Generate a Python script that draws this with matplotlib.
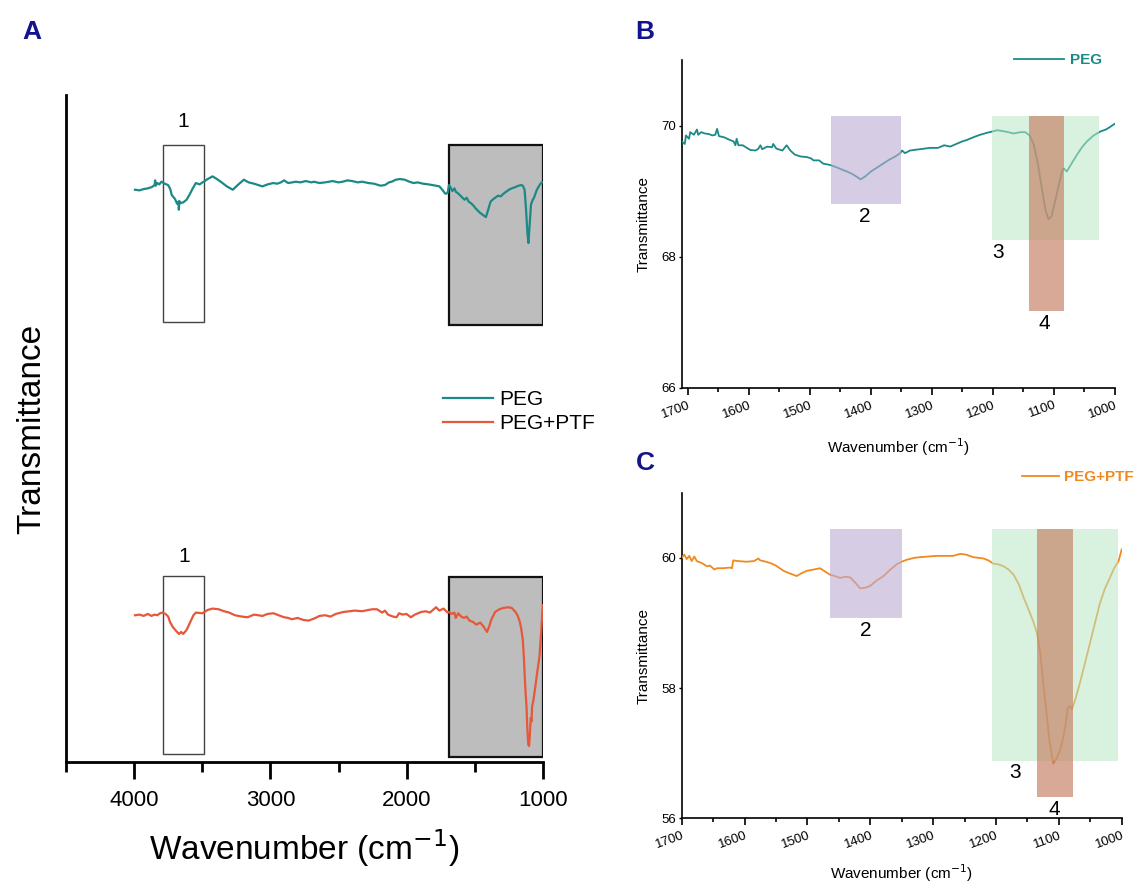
import matplotlib
matplotlib.use("Agg")
import matplotlib.pyplot as plt
from matplotlib.patches import Rectangle
from matplotlib.ticker import MultipleLocator

plt.rcParams['font.family'] = ['Liberation Sans', 'DejaVu Sans']

# ---------------- data: panel A (full range, offset arbitrary units) ----------------
a_peg_x = [3994, 3960, 3930, 3900, 3870, 3850, 3846, 3842, 3830, 3815, 3800, 3791, 3775,
           3751, 3735, 3724, 3700, 3685, 3675, 3672, 3668, 3660, 3640, 3615, 3590, 3570,
           3547, 3520, 3498, 3460, 3425, 3400, 3358, 3320, 3276, 3240, 3195, 3160, 3120,
           3059, 3020, 2980, 2950, 2923, 2900, 2870, 2840, 2815, 2780, 2740, 2700, 2680,
           2640, 2600, 2570, 2544, 2500, 2470, 2435, 2400, 2360, 2327, 2280, 2240, 2192,
           2160, 2130, 2110, 2080, 2050, 2015, 1980, 1950, 1920, 1880, 1840, 1785, 1760,
           1735, 1717, 1700, 1690, 1677, 1665, 1650, 1640, 1620, 1596, 1575, 1560, 1545,
           1530, 1514, 1490, 1460, 1440, 1419, 1405, 1385, 1370, 1351, 1330, 1310, 1290,
           1270, 1250, 1230, 1202, 1180, 1160, 1148, 1135, 1125, 1115, 1107, 1098, 1088,
           1075, 1066, 1045, 1025, 1010, 1000]
a_peg_y = [85.8, 85.7, 85.9, 86.0, 86.2, 86.5, 87.2, 86.4, 86.8, 86.6, 87.0, 86.9, 86.7,
           86.5, 85.9, 85.0, 84.4, 83.7, 84.0, 82.8, 84.1, 83.8, 83.9, 84.3, 85.2, 86.0,
           86.8, 86.6, 86.9, 87.4, 87.8, 87.5, 86.9, 86.3, 85.8, 86.5, 87.3, 86.9, 86.7,
           86.3, 86.6, 86.8, 86.7, 86.9, 87.2, 86.8, 86.9, 87.0, 86.9, 87.1, 86.9, 87.0,
           86.8, 86.9, 87.0, 87.1, 86.9, 87.0, 87.2, 87.1, 86.9, 87.0, 86.8, 86.7, 86.4,
           86.5, 86.9, 87.0, 87.3, 87.4, 87.3, 87.0, 86.8, 86.9, 86.7, 86.6, 86.4, 86.3,
           85.7, 85.2, 85.3, 86.5, 86.1, 85.6, 86.0, 85.5, 85.2, 84.7, 84.3, 84.6, 84.0,
           83.8, 83.5, 82.9, 82.3, 82.0, 81.7, 82.6, 84.0, 84.3, 84.6, 84.9, 84.8, 85.2,
           85.5, 85.8, 86.0, 86.2, 86.4, 86.5, 86.4, 85.8, 83.0, 79.5, 77.8, 80.5, 83.6,
           84.3, 84.6, 85.8, 86.5, 86.9, 86.9]

a_ptf_x = [3994, 3960, 3930, 3900, 3873, 3850, 3830, 3810, 3791, 3770, 3750, 3737, 3715,
           3690, 3670, 3655, 3640, 3615, 3590, 3565, 3547, 3500, 3460, 3425, 3380, 3340,
           3303, 3260, 3210, 3168, 3120, 3090, 3059, 3020, 2978, 2940, 2900, 2870, 2843,
           2800, 2760, 2720, 2680, 2640, 2598, 2560, 2520, 2463, 2420, 2380, 2327, 2280,
           2250, 2219, 2180, 2160, 2138, 2100, 2075, 2056, 2030, 2002, 1970, 1940, 1893,
           1860, 1830, 1785, 1760, 1730, 1700, 1690, 1670, 1650, 1640, 1622, 1600, 1580,
           1560, 1540, 1514, 1490, 1460, 1440, 1411, 1395, 1380, 1351, 1320, 1290, 1257,
           1230, 1202, 1185, 1170, 1160, 1148, 1140, 1132, 1125, 1121, 1115, 1108, 1102,
           1096, 1090, 1084, 1080, 1070, 1055, 1040, 1026, 1015, 1004, 1000]
a_ptf_y = [22.0, 22.1, 21.9, 22.2, 21.9, 22.1, 22.0, 22.3, 22.4, 22.2, 21.8, 21.0, 20.2,
           19.6, 19.2, 19.5, 19.2, 19.8, 20.9, 22.0, 22.4, 22.3, 22.8, 23.0, 22.9, 22.6,
           22.4, 22.0, 21.8, 21.7, 22.1, 22.0, 21.9, 22.2, 22.3, 22.0, 21.7, 21.6, 21.4,
           21.6, 21.3, 21.2, 21.5, 21.9, 22.0, 21.8, 22.2, 22.5, 22.6, 22.7, 22.6, 22.8,
           22.9, 22.9, 22.4, 22.7, 22.1, 21.8, 21.7, 22.3, 22.1, 22.2, 21.7, 22.1, 22.5,
           22.6, 22.4, 23.2, 22.7, 23.0, 22.4, 22.5, 22.2, 22.4, 21.6, 22.3, 21.8, 21.6,
           21.8, 21.2, 21.0, 20.6, 20.9, 20.4, 19.5, 20.3, 21.3, 22.5, 22.9, 23.1, 23.2,
           23.1, 22.5, 21.9, 21.0, 20.0, 18.3, 15.5, 12.0, 9.5, 8.3, 5.0, 2.6, 2.4,
           4.2, 6.6, 6.1, 8.3, 9.3, 11.5, 13.8, 15.8, 19.0, 22.6, 23.5]

# ---------------- data: panel B (PEG zoom) ----------------
b_peg_x = [1710, 1705, 1703, 1698, 1696, 1690, 1685, 1683, 1678, 1672, 1665, 1660, 1655,
           1652, 1649, 1640, 1631, 1625, 1622, 1620, 1617, 1610, 1598, 1590, 1585, 1581,
           1578, 1570, 1562, 1560, 1555, 1545, 1538, 1532, 1525, 1516, 1505, 1498, 1494,
           1485, 1478, 1467, 1455, 1445, 1439, 1430, 1420, 1417, 1410, 1400, 1390, 1380,
           1370, 1360, 1352, 1349, 1344, 1336, 1320, 1303, 1290, 1280, 1270, 1260, 1250,
           1243, 1230, 1221, 1210, 1201, 1193, 1180, 1166, 1155, 1147, 1140, 1133, 1126,
           1120, 1114, 1109, 1104, 1098, 1092, 1087, 1084, 1079, 1070, 1062, 1054, 1046,
           1035, 1024, 1015, 1008, 1000]
b_peg_y = [69.76, 69.72, 69.85, 69.80, 69.90, 69.86, 69.94, 69.86, 69.90, 69.88, 69.87,
           69.85, 69.86, 69.95, 69.84, 69.82, 69.78, 69.76, 69.70, 69.80, 69.70, 69.70,
           69.63, 69.62, 69.64, 69.70, 69.64, 69.68, 69.67, 69.72, 69.65, 69.62, 69.70,
           69.62, 69.56, 69.53, 69.52, 69.50, 69.47, 69.47, 69.42, 69.40, 69.36, 69.32,
           69.30, 69.26, 69.20, 69.18, 69.22, 69.30, 69.36, 69.42, 69.48, 69.53, 69.58,
           69.62, 69.58, 69.62, 69.64, 69.66, 69.66, 69.70, 69.68, 69.72, 69.76, 69.78,
           69.83, 69.86, 69.89, 69.91, 69.93, 69.91, 69.88, 69.90, 69.90, 69.85, 69.71,
           69.40, 69.05, 68.72, 68.57, 68.62, 68.85, 69.10, 69.30, 69.35, 69.30, 69.44,
           69.56, 69.67, 69.76, 69.85, 69.91, 69.94, 69.98, 70.03]

# ---------------- data: panel C (PEG+PTF zoom) ----------------
c_ptf_x = [1700, 1696, 1692, 1688, 1684, 1680, 1676, 1668, 1660, 1655, 1648, 1644, 1635,
           1623, 1620, 1618, 1610, 1597, 1585, 1578, 1575, 1570, 1559, 1550, 1538, 1528,
           1517, 1510, 1501, 1490, 1480, 1472, 1464, 1456, 1448, 1440, 1432, 1424, 1416,
           1408, 1400, 1390, 1379, 1368, 1358, 1350, 1342, 1330, 1321, 1308, 1294, 1280,
           1268, 1257, 1248, 1236, 1220, 1212, 1204, 1196, 1188, 1180, 1172, 1164, 1156,
           1148, 1141, 1135, 1130, 1125, 1120, 1115, 1109, 1104, 1098, 1093, 1089, 1086,
           1082, 1079, 1074, 1067, 1059, 1051, 1043, 1035, 1027, 1019, 1012, 1005, 1000]
c_ptf_y = [60.00, 60.05, 59.98, 60.03, 59.95, 60.02, 59.95, 59.92, 59.87, 59.88, 59.82,
           59.84, 59.84, 59.85, 59.84, 59.96, 59.95, 59.94, 59.95, 59.99, 59.96, 59.95,
           59.92, 59.88, 59.80, 59.76, 59.72, 59.76, 59.80, 59.82, 59.84, 59.79, 59.74,
           59.72, 59.69, 59.71, 59.70, 59.62, 59.53, 59.54, 59.57, 59.65, 59.72, 59.82,
           59.90, 59.94, 59.97, 60.00, 60.01, 60.02, 60.03, 60.03, 60.03, 60.06, 60.05,
           60.01, 59.99, 59.96, 59.91, 59.90, 59.87, 59.82, 59.74, 59.60, 59.39, 59.20,
           59.03, 58.85, 58.57, 58.10, 57.65, 57.20, 56.84, 56.91, 57.05, 57.24, 57.45,
           57.70, 57.72, 57.68, 57.82, 58.06, 58.36, 58.67, 58.98, 59.29, 59.52, 59.69,
           59.84, 59.95, 60.13]

# ---------------- figure ----------------
fig = plt.figure(figsize=(11.36, 8.84), dpi=100)

teal = '#1b8a86'
red = '#e5583a'
orange = '#f08a1f'
navy = '#14148a'

# ---------------- Panel A ----------------
axA = fig.add_axes([66/1136, 1-762/884, 477/1136, 667/884])
axA.plot(a_peg_x, a_peg_y, color=teal, lw=1.6, label='PEG', zorder=3)
axA.plot(a_ptf_x, a_ptf_y, color=red, lw=1.6, label='PEG+PTF', zorder=3)
axA.set_xlim(4500, 1000)
axA.set_ylim(0, 100)
for s in ['top', 'right']:
    axA.spines[s].set_visible(False)
for s in ['left', 'bottom']:
    axA.spines[s].set_linewidth(2)
axA.set_yticks([])
axA.xaxis.set_major_locator(MultipleLocator(1000))
axA.xaxis.set_minor_locator(MultipleLocator(500))
axA.tick_params(axis='x', which='major', length=12, width=2, labelsize=16, pad=8)
axA.tick_params(axis='x', which='minor', length=7, width=2)
axA.set_xlabel('Wavenumber (cm$^{-1}$)', fontsize=24, labelpad=12)
axA.set_ylabel('Transmittance', fontsize=24)
axA.yaxis.set_label_coords(-0.04, 0.5)

# boxes in A
for (x0, x1, y0, y1) in [(3790, 3490, 66.0, 92.5), (3790, 3490, 1.2, 27.9)]:
    axA.add_patch(Rectangle((x1, y0), x0 - x1, y1 - y0, facecolor='none',
                            edgecolor='#444444', lw=1.0, zorder=2))
for (x0, x1, y0, y1) in [(1690, 1000, 65.5, 92.5), (1690, 1000, 0.7, 27.7)]:
    axA.add_patch(Rectangle((x1, y0), x0 - x1, y1 - y0, facecolor='#bdbdbd',
                            edgecolor='#111111', lw=1.6, zorder=1))
axA.text(3640, 96.0, '1', fontsize=15, ha='center', va='center')
axA.text(3630, 30.8, '1', fontsize=15, ha='center', va='center')
axA.legend(loc='upper left', bbox_to_anchor=((443-66)/477, (762-390)/667),
           frameon=False, fontsize=15, handlelength=2.4, handletextpad=0.3,
           labelspacing=0.25, borderpad=0, borderaxespad=0)

fig.text(32/1136, 1-32/884, 'A', fontsize=19, fontweight='bold', color=navy,
         ha='center', va='center')
fig.text(645/1136, 1-32/884, 'B', fontsize=19, fontweight='bold', color=navy,
         ha='center', va='center')
fig.text(645/1136, 1-463/884, 'C', fontsize=19, fontweight='bold', color=navy,
         ha='center', va='center')

purple_c = '#bcacd5'
green_c = '#b9e8c6'
brick_c = '#c67c61'

def style_zoom(ax, xlabel_y):
    for s in ['top', 'right']:
        ax.spines[s].set_visible(False)
    for s in ['left', 'bottom']:
        ax.spines[s].set_linewidth(1.2)
    ax.xaxis.set_major_locator(MultipleLocator(100))
    ax.xaxis.set_minor_locator(MultipleLocator(50))
    ax.yaxis.set_major_locator(MultipleLocator(2))
    ax.tick_params(axis='x', which='major', length=5, width=1.2, labelsize=9.5, pad=3)
    ax.tick_params(axis='x', which='minor', length=3, width=1.2)
    ax.tick_params(axis='y', which='major', length=2, width=1.0, labelsize=9.5, pad=2)
    for lab in ax.get_xticklabels():
        lab.set_rotation(20)
        lab.set_ha('right')
        lab.set_va('top')
        lab.set_rotation_mode('anchor')
    ax.set_xlabel('Wavenumber (cm$^{-1}$)', fontsize=11)
    ax.xaxis.set_label_coords(0.5, xlabel_y)
    ax.set_ylabel('Transmittance', fontsize=11, labelpad=8)

def add_rect(ax, x0, x1, y0, y1, color, alpha):
    ax.add_patch(Rectangle((x1, y0), x0 - x1, y1 - y0, facecolor=color,
                           edgecolor='none', alpha=alpha, zorder=4))

# ---------------- Panel B ----------------
axB = fig.add_axes([681.7/1136, 1-388/884, 433.3/1136, 328/884])
axB.plot(b_peg_x, b_peg_y, color=teal, lw=1.3, label='PEG', zorder=3)
axB.set_xlim(1710, 1000)
axB.set_ylim(66, 71)
style_zoom(axB, -0.147)
add_rect(axB, 1465, 1350, 68.80, 70.15, purple_c, 0.6)
add_rect(axB, 1201, 1026, 68.26, 70.15, green_c, 0.55)
add_rect(axB, 1141, 1083, 67.17, 70.15, brick_c, 0.65)
axB.text(1410, 68.62, '2', fontsize=15, ha='center', va='center')
axB.text(1192, 68.06, '3', fontsize=15, ha='center', va='center')
axB.text(1116, 66.98, '4', fontsize=15, ha='center', va='center')
axB.legend(loc='upper left', bbox_to_anchor=((1014-681.7)/433.3, (388-53)/328),
           frameon=False, prop={'weight': 'bold', 'size': 11},
           handlelength=3.3, handletextpad=0.35, borderpad=0, borderaxespad=0,
           labelcolor='linecolor')

# ---------------- Panel C ----------------
axC = fig.add_axes([681.7/1136, 1-818.3/884, 440/1136, 325.6/884])
axC.plot(c_ptf_x, c_ptf_y, color=orange, lw=1.3, label='PEG+PTF', zorder=3)
axC.set_xlim(1700, 1000)
axC.set_ylim(56, 61)
style_zoom(axC, -0.135)
add_rect(axC, 1464, 1350, 59.08, 60.45, purple_c, 0.6)
add_rect(axC, 1206, 1006, 56.88, 60.45, green_c, 0.55)
add_rect(axC, 1135, 1078, 56.33, 60.45, brick_c, 0.65)
axC.text(1407, 58.88, '2', fontsize=15, ha='center', va='center')
axC.text(1169, 56.70, '3', fontsize=15, ha='center', va='center')
axC.text(1107, 56.14, '4', fontsize=15, ha='center', va='center')
axC.legend(loc='upper left', bbox_to_anchor=((1022-681.7)/440, (818.3-470)/325.6),
           frameon=False, prop={'weight': 'bold', 'size': 11},
           handlelength=2.4, handletextpad=0.35, borderpad=0, borderaxespad=0,
           labelcolor='linecolor')

fig.savefig('out.png', dpi=100)
